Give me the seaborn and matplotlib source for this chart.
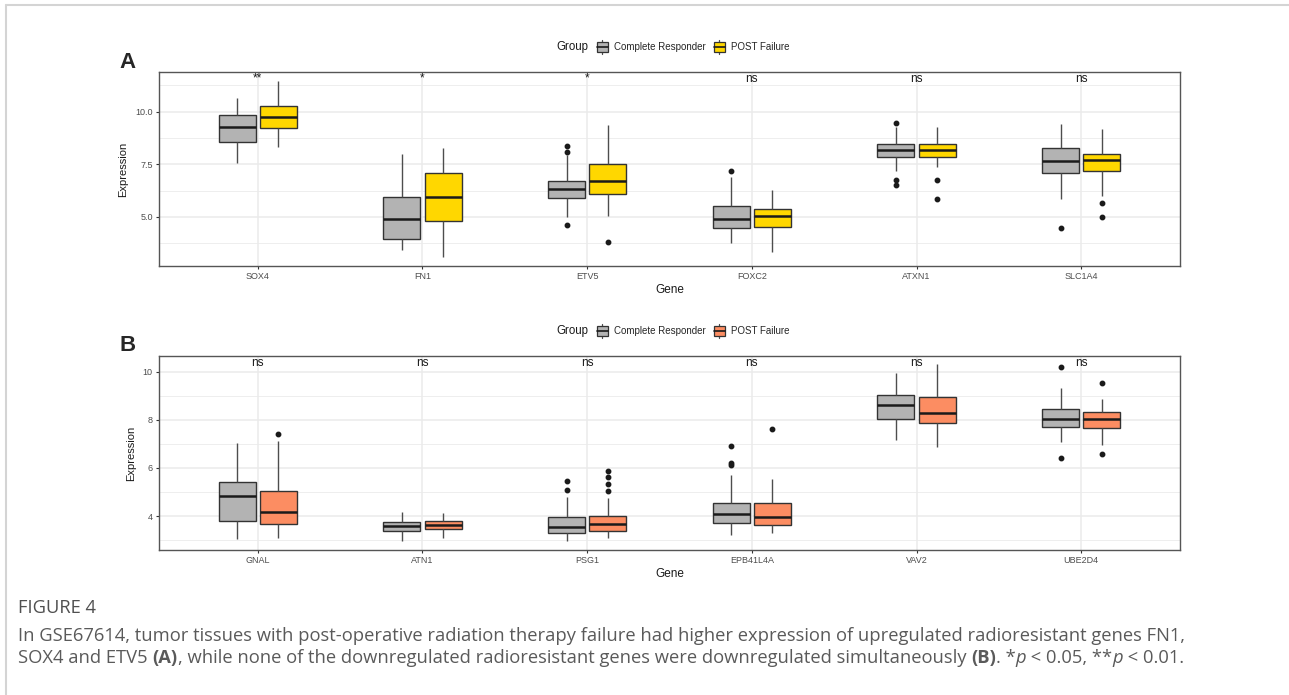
import numpy as np
import pandas as pd
import matplotlib
matplotlib.use("Agg")
import matplotlib.pyplot as plt
import seaborn as sns
from matplotlib.lines import Line2D
from matplotlib.patches import Rectangle, Patch
from matplotlib.legend_handler import HandlerBase

# ---- values (box stats: low whisker, Q1, median, Q3, high whisker, outliers)
groups = ["Complete Responder", "POST Failure"]

genes_a = ["SOX4", "FN1", "ETV5", "FOXC2", "ATXN1", "SLC1A4"]
signif_a = ["**", "*", "*", "ns", "ns", "ns"]
cr_a_lo = [7.55, 3.43, 5.01, 3.75, 7.20, 5.85]
cr_a_q1 = [8.57, 3.95, 5.89, 4.46, 7.85, 7.07]
cr_a_med = [9.26, 4.89, 6.31, 4.90, 8.18, 7.64]
cr_a_q3 = [9.84, 5.93, 6.72, 5.53, 8.48, 8.26]
cr_a_hi = [10.64, 7.99, 7.94, 6.88, 9.28, 9.40]
cr_a_out = [[], [], [8.07, 8.37, 4.60], [7.20], [9.45, 6.76, 6.53], [4.49]]
pf_a_lo = [8.31, 3.08, 5.05, 3.35, 7.36, 5.99]
pf_a_q1 = [9.21, 4.79, 6.09, 4.51, 7.85, 7.17]
pf_a_med = [9.76, 5.96, 6.72, 5.05, 8.17, 7.71]
pf_a_q3 = [10.27, 7.07, 7.53, 5.36, 8.48, 7.99]
pf_a_hi = [11.46, 8.29, 9.37, 6.28, 9.29, 9.20]
pf_a_out = [[], [], [3.82], [], [6.74, 5.84], [5.68, 4.98]]

genes_b = ["GNAL", "ATN1", "PSG1", "EPB41L4A", "VAV2", "UBE2D4"]
signif_b = ["ns", "ns", "ns", "ns", "ns", "ns"]
cr_b_lo = [3.04, 2.95, 2.96, 3.21, 7.16, 7.09]
cr_b_q1 = [3.79, 3.38, 3.28, 3.72, 8.03, 7.69]
cr_b_med = [4.83, 3.60, 3.53, 4.07, 8.60, 8.03]
cr_b_q3 = [5.40, 3.74, 3.97, 4.53, 9.03, 8.44]
cr_b_hi = [7.05, 4.18, 4.80, 5.70, 9.93, 9.34]
cr_b_out = [[], [], [5.08, 5.47], [6.12, 6.19, 6.91], [], [10.21, 6.43]]
pf_b_lo = [3.07, 3.07, 3.07, 3.31, 6.86, 6.94]
pf_b_q1 = [3.65, 3.46, 3.39, 3.64, 7.88, 7.65]
pf_b_med = [4.17, 3.61, 3.67, 3.97, 8.30, 8.02]
pf_b_q3 = [5.05, 3.79, 3.99, 4.53, 8.94, 8.34]
pf_b_hi = [7.13, 4.12, 4.73, 5.53, 10.31, 8.86]
pf_b_out = [[7.40], [], [5.04, 5.33, 5.63, 5.87], [7.60], [], [9.54, 6.58]]


def as_sample(lo, q1, med, q3, hi, out):
    # values laid out so that the 25/50/75 percentiles hit q1/med/q3 exactly
    low = sorted(o for o in out if o < q1)
    high = sorted(o for o in out if o > q3)
    m = max(len(low), len(high)) + 1
    return (low + [lo] + [q1] * (m - len(low)) + [med] * m + [q3] * m
            + [hi] * (m - len(high)) + high)


def long_table(genes, stats_by_group):
    rows = []
    for grp, stats in zip(groups, stats_by_group):
        for i, g in enumerate(genes):
            s = as_sample(*(col[i] for col in stats))
            rows += [(g, grp, v) for v in s]
    return pd.DataFrame(rows, columns=["Gene", "Group", "Expression"])


df_a = long_table(genes_a, [(cr_a_lo, cr_a_q1, cr_a_med, cr_a_q3, cr_a_hi, cr_a_out),
                            (pf_a_lo, pf_a_q1, pf_a_med, pf_a_q3, pf_a_hi, pf_a_out)])
df_b = long_table(genes_b, [(cr_b_lo, cr_b_q1, cr_b_med, cr_b_q3, cr_b_hi, cr_b_out),
                            (pf_b_lo, pf_b_q1, pf_b_med, pf_b_q3, pf_b_hi, pf_b_out)])

sns.set_theme(style="white")
plt.rcParams["font.family"] = ["Liberation Sans", "DejaVu Sans"]

W, H = 1289, 695
fig = plt.figure(figsize=(W / 100, H / 100), dpi=100)


class BoxKey(HandlerBase):
    def create_artists(self, legend, orig_handle, xdescent, ydescent, width, height, fontsize, trans):
        x0, y0 = -xdescent, -ydescent
        cx = x0 + width / 2
        wl = Line2D([cx, cx], [y0 - 0.1 * height, y0 + 1.1 * height], color="#4d4d4d", lw=0.9)
        box = Rectangle((x0 + 0.08 * width, y0 + 0.12 * height), 0.84 * width, 0.76 * height,
                        facecolor=orig_handle.get_facecolor(), edgecolor="#333333", lw=0.9)
        med = Line2D([x0 + 0.08 * width, x0 + 0.92 * width], [y0 + height / 2] * 2, color="#1a1a1a", lw=1.2)
        for a in (wl, box, med):
            a.set_transform(trans)
        return [wl, box, med]


def panel(df, genes, signif, colors, ylim, yticks, yminor, yfmt, top_px, letter):
    bottom_px = top_px + 194
    ax = fig.add_axes([159 / W, 1 - bottom_px / H, (1180 - 159) / W, 194 / H])
    sns.boxplot(data=df, x="Gene", y="Expression", hue="Group", order=genes, hue_order=groups,
                palette=colors, saturation=1, width=0.5, gap=0.1, linecolor="#333333",
                linewidth=1.0, fliersize=3.2, legend=False, ax=ax,
                medianprops={"color": "#1a1a1a", "linewidth": 1.8},
                whiskerprops={"color": "#4d4d4d", "linewidth": 1.0},
                capprops={"visible": False},
                flierprops={"marker": "o", "markerfacecolor": "#1a1a1a",
                            "markeredgecolor": "#1a1a1a"})
    ax.set_xlim(-0.6, len(genes) - 0.4)
    ax.set_ylim(*ylim)
    ax.set_yticks(yticks)
    ax.set_yticklabels([yfmt.format(t) for t in yticks])
    ax.set_yticks(yminor, minor=True)
    ax.set_axisbelow(True)
    ax.grid(True, which="major", color="#ebebeb", lw=1.1)
    ax.grid(True, which="minor", axis="y", color="#ebebeb", lw=0.6)
    for sp in ax.spines.values():
        sp.set_color("#555555")
        sp.set_linewidth(1.0)
    ax.tick_params(axis="both", which="major", length=2.5, width=0.8, color="#333333",
                   labelsize=6.5, labelcolor="#4d4d4d", pad=2, left=True, bottom=True)
    ax.tick_params(axis="y", which="minor", length=0)
    ax.set_xlabel("Gene", fontsize=8.5, color="#1a1a1a", labelpad=2)
    ax.set_ylabel("Expression", fontsize=8, color="#1a1a1a", labelpad=5)
    label_y = ylim[1] - (ylim[1] - ylim[0]) * (9.5 / 194)
    for i, s in enumerate(signif):
        ax.text(i, label_y, s, ha="center", va="baseline", fontsize=8.5, color="#1a1a1a")
    fig.text(128 / W, 1 - (top_px - 10) / H, letter, fontsize=16, fontweight="bold",
             ha="center", va="center")
    # legend on top
    ly = 1 - (top_px - 25) / H
    fig.text(572 / W, ly, "Group", fontsize=8.3, ha="center", va="center", color="#1a1a1a")
    handles = [Patch(facecolor=c) for c in colors]
    fig.legend(handles, groups, handler_map={Patch: BoxKey()}, loc="center left",
               bbox_to_anchor=(596 / W, ly), ncol=2, frameon=False, fontsize=7,
               handlelength=1.3, handleheight=1.5, handletextpad=0.5, columnspacing=0.8,
               borderpad=0, borderaxespad=0)
    return ax


panel(df_a, genes_a, signif_a, ["#b3b3b3", "#ffd700"], (2.67, 11.89),
      [5.0, 7.5, 10.0], [3.75, 6.25, 8.75, 11.25], "{:.1f}", 72, "A")
panel(df_b, genes_b, signif_b, ["#b3b3b3", "#fc8d62"], (2.59, 10.65),
      [4, 6, 8, 10], [3, 5, 7, 9], "{:.0f}", 356, "B")

# page frame
fig.add_artist(Line2D([6 / W, 1], [1 - 5 / H] * 2, color="#d4d4d4", lw=1.5))
fig.add_artist(Line2D([6 / W, 6 / W], [0, 1 - 5 / H], color="#d4d4d4", lw=1.5))

# caption
cap_font = ["Open Sans", "DejaVu Sans"]
cap_col = "#5a5a5a"
cap_size = 13.2
fig.text(18 / W, 1 - 608 / H, "FIGURE 4", fontsize=cap_size, color="#505050", family=cap_font,
         va="center")
fig.text(18 / W, 1 - 636 / H,
         "In GSE67614, tumor tissues with post-operative radiation therapy failure had higher "
         "expression of upregulated radioresistant genes FN1,",
         fontsize=cap_size, color=cap_col, family=cap_font, va="center")

runs = [("SOX4 and ETV5 ", {}), ("(A)", {"fontweight": "bold"}),
        (", while none of the downregulated radioresistant genes were downregulated simultaneously ", {}),
        ("(B)", {"fontweight": "bold"}), (". *", {}), ("p", {"style": "italic"}),
        (" < 0.05, **", {}), ("p", {"style": "italic"}), (" < 0.01.", {})]
renderer = fig.canvas.get_renderer()
x = 18.0
for txt, kw in runs:
    t = fig.text(x / W, 1 - 658 / H, txt, fontsize=cap_size, color=cap_col, family=cap_font,
                 va="center", **kw)
    x += t.get_window_extent(renderer).width

fig.savefig("out.png", dpi=100)
